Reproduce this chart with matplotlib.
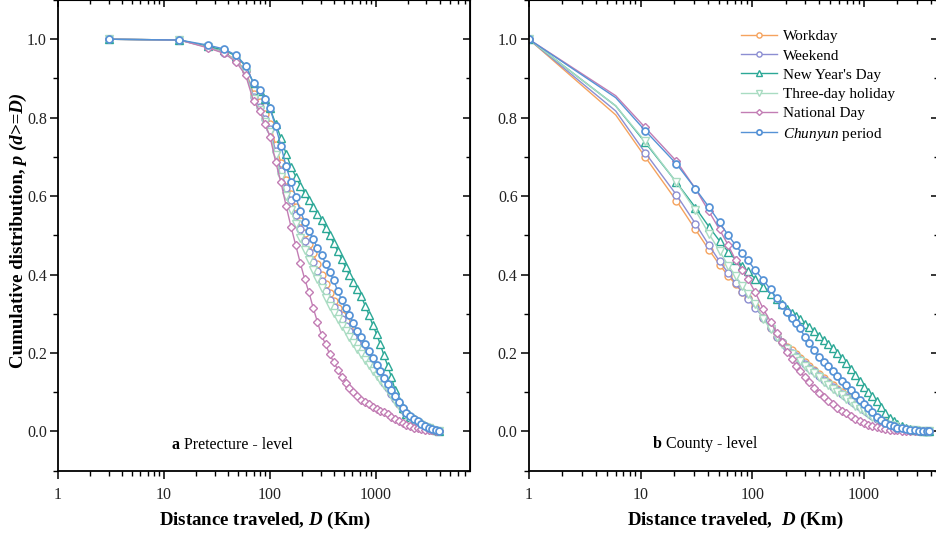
import matplotlib
matplotlib.use('Agg')
import matplotlib.pyplot as plt
from matplotlib import ticker

plt.rcParams['font.family'] = 'Liberation Serif'
plt.rcParams['mathtext.fontset'] = 'custom'
plt.rcParams['mathtext.rm'] = 'Liberation Serif'
plt.rcParams['mathtext.it'] = 'Liberation Serif:italic'
plt.rcParams['mathtext.bf'] = 'Liberation Serif:bold'
plt.rcParams['mathtext.bfit'] = 'Liberation Serif:italic:bold'

# ---- data: prefecture level (panel a) ----
pref_d = [3, 14, 26, 37, 48, 59, 70, 80, 90, 100, 113, 127, 142, 158, 175, 193,
          212, 233, 256, 280, 307, 335, 366, 400, 436, 475, 517, 563, 613, 667,
          725, 790, 860, 935, 1015, 1100, 1190, 1290, 1400, 1520, 1650, 1790,
          1940, 2100, 2280, 2470, 2680, 2900, 3150, 3400, 3700, 3950]
pref_workday = [1.0, 0.998, 0.98, 0.967, 0.946, 0.92, 0.861, 0.84, 0.809, 0.785,
                0.73, 0.685, 0.64, 0.605, 0.572, 0.537, 0.505, 0.478, 0.455, 0.426,
                0.4, 0.375, 0.352, 0.333, 0.315, 0.298, 0.281, 0.265, 0.25, 0.234,
                0.219, 0.203, 0.188, 0.172, 0.157, 0.142, 0.128, 0.114, 0.099, 0.085,
                0.071, 0.057, 0.046, 0.037, 0.031, 0.025, 0.019, 0.014, 0.009, 0.005,
                0.002, 0.0]
pref_weekend = [1.0, 0.998, 0.98, 0.966, 0.944, 0.918, 0.853, 0.826, 0.796, 0.77,
                0.716, 0.665, 0.622, 0.59, 0.552, 0.515, 0.485, 0.458, 0.433, 0.408,
                0.383, 0.358, 0.336, 0.318, 0.302, 0.286, 0.27, 0.255, 0.24, 0.225,
                0.21, 0.195, 0.181, 0.166, 0.152, 0.138, 0.124, 0.11, 0.096, 0.083,
                0.069, 0.055, 0.045, 0.036, 0.03, 0.024, 0.018, 0.013, 0.009, 0.005,
                0.002, 0.0]
pref_newyear = [1.0, 0.998, 0.982, 0.972, 0.957, 0.931, 0.888, 0.868, 0.847, 0.824,
                0.785, 0.748, 0.708, 0.675, 0.65, 0.627, 0.607, 0.59, 0.572, 0.555,
                0.538, 0.518, 0.5, 0.48, 0.46, 0.439, 0.419, 0.399, 0.382, 0.364,
                0.345, 0.321, 0.297, 0.271, 0.248, 0.222, 0.194, 0.168, 0.138, 0.105,
                0.078, 0.059, 0.045, 0.037, 0.031, 0.025, 0.02, 0.015, 0.011, 0.007,
                0.003, 0.0]
pref_threeday = [1.0, 0.998, 0.979, 0.965, 0.944, 0.915, 0.848, 0.82, 0.79, 0.763,
                 0.704, 0.648, 0.6, 0.565, 0.528, 0.493, 0.463, 0.437, 0.412, 0.388,
                 0.365, 0.341, 0.32, 0.302, 0.286, 0.27, 0.256, 0.241, 0.226, 0.211,
                 0.197, 0.183, 0.169, 0.155, 0.142, 0.13, 0.118, 0.105, 0.092, 0.079,
                 0.066, 0.053, 0.043, 0.035, 0.028, 0.022, 0.017, 0.012, 0.008, 0.005,
                 0.002, 0.0]
pref_national = [1.0, 0.998, 0.978, 0.964, 0.942, 0.908, 0.842, 0.818, 0.783, 0.752,
                 0.688, 0.635, 0.575, 0.522, 0.475, 0.43, 0.39, 0.355, 0.315, 0.28,
                 0.245, 0.222, 0.197, 0.177, 0.158, 0.14, 0.124, 0.11, 0.1, 0.09,
                 0.081, 0.075, 0.069, 0.063, 0.058, 0.053, 0.049, 0.045, 0.038, 0.031,
                 0.026, 0.021, 0.016, 0.013, 0.01, 0.008, 0.006, 0.005, 0.004, 0.003,
                 0.002, 0.0]
pref_chunyun = [1.0, 0.998, 0.985, 0.975, 0.959, 0.933, 0.888, 0.87, 0.847, 0.824,
                0.778, 0.728, 0.676, 0.636, 0.598, 0.563, 0.535, 0.512, 0.49, 0.468,
                0.45, 0.428, 0.407, 0.385, 0.358, 0.335, 0.314, 0.296, 0.276, 0.256,
                0.24, 0.222, 0.205, 0.187, 0.169, 0.154, 0.137, 0.121, 0.105, 0.09,
                0.074, 0.059, 0.048, 0.039, 0.032, 0.026, 0.02, 0.015, 0.01, 0.006,
                0.003, 0.0]

# ---- data: county level (panel b) ----
county_d = [1, 6, 11, 21, 31, 41, 51, 61, 71, 81, 91, 106, 126, 146, 166, 186, 206,
            226, 246, 266, 296, 326, 356, 396, 436, 476, 526, 576, 636, 696, 766,
            836, 916, 1000, 1090, 1190, 1300, 1420, 1550, 1700, 1850, 2000, 2200,
            2400, 2600, 2850, 3100, 3400, 3700, 3850]
county_workday = [1.0, 0.807, 0.70, 0.588, 0.515, 0.463, 0.425, 0.397, 0.375, 0.356,
                  0.341, 0.319, 0.29, 0.264, 0.242, 0.229, 0.216, 0.207, 0.197, 0.188,
                  0.177, 0.167, 0.157, 0.146, 0.136, 0.127, 0.118, 0.109, 0.1, 0.092,
                  0.083, 0.074, 0.065, 0.058, 0.049, 0.042, 0.035, 0.029, 0.024, 0.019,
                  0.016, 0.012, 0.009, 0.007, 0.005, 0.003, 0.002, 0.001, 0.0005, 0.0]
county_weekend = [1.0, 0.817, 0.711, 0.603, 0.53, 0.475, 0.434, 0.404, 0.378, 0.356,
                  0.338, 0.316, 0.29, 0.264, 0.242, 0.227, 0.212, 0.201, 0.192, 0.183,
                  0.172, 0.162, 0.153, 0.142, 0.132, 0.123, 0.113, 0.105, 0.096, 0.088,
                  0.079, 0.07, 0.062, 0.055, 0.047, 0.039, 0.033, 0.027, 0.022, 0.018,
                  0.014, 0.011, 0.008, 0.006, 0.004, 0.003, 0.002, 0.001, 0.0005, 0.0]
county_newyear = [1.0, 0.83, 0.737, 0.635, 0.571, 0.522, 0.486, 0.458, 0.438, 0.421,
                  0.408, 0.39, 0.369, 0.351, 0.337, 0.325, 0.312, 0.303, 0.295, 0.286,
                  0.275, 0.266, 0.255, 0.244, 0.234, 0.223, 0.212, 0.2, 0.187, 0.174,
                  0.16, 0.145, 0.129, 0.113, 0.1, 0.09, 0.078, 0.062, 0.047, 0.034,
                  0.026, 0.02, 0.014, 0.01, 0.007, 0.005, 0.003, 0.002, 0.001, 0.0]
county_threeday = [1.0, 0.83, 0.74, 0.635, 0.564, 0.504, 0.46, 0.423, 0.397, 0.37,
                   0.351, 0.325, 0.286, 0.262, 0.242, 0.223, 0.21, 0.198, 0.188, 0.179,
                   0.168, 0.158, 0.148, 0.138, 0.127, 0.119, 0.109, 0.1, 0.092, 0.084,
                   0.075, 0.066, 0.058, 0.051, 0.044, 0.037, 0.031, 0.025, 0.02, 0.016,
                   0.013, 0.01, 0.007, 0.005, 0.004, 0.003, 0.002, 0.001, 0.0005, 0.0]
county_national = [1.0, 0.856, 0.775, 0.689, 0.619, 0.561, 0.515, 0.475, 0.437, 0.412,
                   0.39, 0.356, 0.312, 0.28, 0.251, 0.227, 0.203, 0.184, 0.168, 0.155,
                   0.138, 0.125, 0.112, 0.099, 0.088, 0.079, 0.07, 0.061, 0.052, 0.046,
                   0.039, 0.033, 0.027, 0.022, 0.017, 0.014, 0.011, 0.009, 0.007, 0.005,
                   0.004, 0.003, 0.002, 0.0015, 0.001, 0.0005, 0.0, 0.0, 0.0, 0.0]
county_chunyun = [1.0, 0.851, 0.767, 0.682, 0.619, 0.572, 0.533, 0.5, 0.475, 0.454,
                  0.437, 0.412, 0.386, 0.362, 0.34, 0.323, 0.305, 0.29, 0.277, 0.264,
                  0.242, 0.225, 0.207, 0.19, 0.177, 0.166, 0.153, 0.142, 0.129, 0.118,
                  0.105, 0.092, 0.081, 0.07, 0.059, 0.049, 0.037, 0.029, 0.022, 0.017,
                  0.013, 0.01, 0.008, 0.006, 0.004, 0.003, 0.002, 0.001, 0.0005, 0.0]

labels = ['Workday', 'Weekend', "New Year's Day", 'Three-day holiday',
          'National Day', r'$\mathit{Chunyun}$ period']
colors = ['#F5A35E', '#8C8ED2', '#2BA896', '#A9DCC2', '#C27DB4', '#5592D6']
markers = ['o', 'o', '^', 'v', 'D', 'o']
msizes = [5, 5, 5.5, 5.5, 4, 5]
mews = [1.0, 1.0, 1.0, 1.0, 1.0, 1.25]

pref_series = [pref_workday, pref_weekend, pref_newyear, pref_threeday,
               pref_national, pref_chunyun]
county_series = [county_workday, county_weekend, county_newyear, county_threeday,
                 county_national, county_chunyun]

fig = plt.figure(figsize=(9.36, 5.34), dpi=100)
axL = fig.add_axes([0.062, 0.1185, 0.440, 0.8815])
axR = fig.add_axes([0.565, 0.1185, 0.437, 0.8815])


def style_axes(ax, xmax):
    ax.set_xscale('log')
    ax.set_xlim(1, xmax)
    ax.set_ylim(-0.1, 1.1)
    ax.xaxis.set_major_locator(ticker.LogLocator(base=10, numticks=10))
    ax.xaxis.set_minor_locator(ticker.LogLocator(base=10, subs=range(2, 10), numticks=20))
    ax.xaxis.set_major_formatter(ticker.FuncFormatter(lambda v, p: f'{v:g}'))
    ax.xaxis.set_minor_formatter(ticker.NullFormatter())
    ax.yaxis.set_major_locator(ticker.FixedLocator([0, 0.2, 0.4, 0.6, 0.8, 1.0]))
    ax.yaxis.set_minor_locator(ticker.FixedLocator([-0.1, 0.1, 0.3, 0.5, 0.7, 0.9, 1.1]))
    ax.yaxis.set_major_formatter(ticker.FormatStrFormatter('%.1f'))
    ax.tick_params(which='major', direction='out', length=6, width=1.1,
                   labelsize=11.5, labelcolor='#222222')
    ax.tick_params(which='minor', direction='out', length=3.5, width=1.0)
    ax.tick_params(axis='x', which='major', pad=6)
    ax.tick_params(axis='y', which='major', pad=2)
    for s in ax.spines.values():
        s.set_linewidth(1.3)
    top = ax.secondary_xaxis('top')
    top.tick_params(which='major', direction='in', length=5, width=1.1, labeltop=False)
    top.tick_params(which='minor', direction='in', length=3, width=1.0)
    top.xaxis.set_major_formatter(ticker.NullFormatter())
    top.xaxis.set_minor_formatter(ticker.NullFormatter())
    right = ax.secondary_yaxis('right')
    right.yaxis.set_major_locator(ticker.FixedLocator([0, 0.2, 0.4, 0.6, 0.8, 1.0]))
    right.yaxis.set_minor_locator(ticker.FixedLocator([-0.1, 0.1, 0.3, 0.5, 0.7, 0.9, 1.1]))
    right.tick_params(which='major', direction='in', length=5, width=1.1, labelright=False)
    right.tick_params(which='minor', direction='in', length=3, width=1.0)
    right.yaxis.set_major_formatter(ticker.NullFormatter())


style_axes(axL, 7700)
style_axes(axR, 4600)

for ys, lab, c, m, ms, mw in zip(pref_series, labels, colors, markers, msizes, mews):
    axL.plot(pref_d, ys, color=c, lw=1.0, marker=m, ms=ms, mfc='white',
             mec=c, mew=mw, label=lab)

county_marks = list(range(len(county_d)))
county_marks.remove(1)
for ys, lab, c, m, ms, mw in zip(county_series, labels, colors, markers, msizes, mews):
    axR.plot(county_d, ys, color=c, lw=1.0, marker=m, ms=ms, mfc='white',
             mec=c, mew=mw, markevery=county_marks, label=lab)

# y label: bold upright part + bold italic part
ylab = fig.text(0.019, 0.497, 'Cumulative distribution,', rotation=90,
                fontsize=13.6, fontweight='bold', ha='center', va='center')
fig.canvas.draw()
plt.annotate(' p (d>=D)', xy=(0, 1), xycoords=ylab, rotation=90,
             fontsize=13.6, fontweight='bold', fontstyle='italic',
             ha='left', va='bottom', annotation_clip=False)

axL.set_xlabel(r'Distance traveled, $\mathbfit{D}$ (Km)', fontsize=13.6, fontweight='bold')
axL.xaxis.set_label_coords(0.503, -0.083)
axR.set_xlabel(r'Distance traveled,  $\mathbfit{D}$ (Km)', fontsize=13.6, fontweight='bold')
axR.xaxis.set_label_coords(0.505, -0.083)

ta = axL.text(11.8, -0.035, 'a', fontsize=11.5, fontweight='bold', ha='left', va='center')
axL.annotate(' Pretecture - level', xy=(1, 0.5), xycoords=ta, fontsize=11.5,
             ha='left', va='center')
tb = axR.text(12.9, -0.032, 'b', fontsize=11.5, fontweight='bold', ha='left', va='center')
axR.annotate(' County - level', xy=(1, 0.5), xycoords=tb, fontsize=11.5,
             ha='left', va='center')

leg = axR.legend(loc='upper left', bbox_to_anchor=(0.518, 0.937), frameon=False,
                 fontsize=11, handlelength=2.4, handletextpad=0.35,
                 labelspacing=0.36, borderpad=0, borderaxespad=0, markerscale=0.75)

fig.savefig('out.png', dpi=100)
